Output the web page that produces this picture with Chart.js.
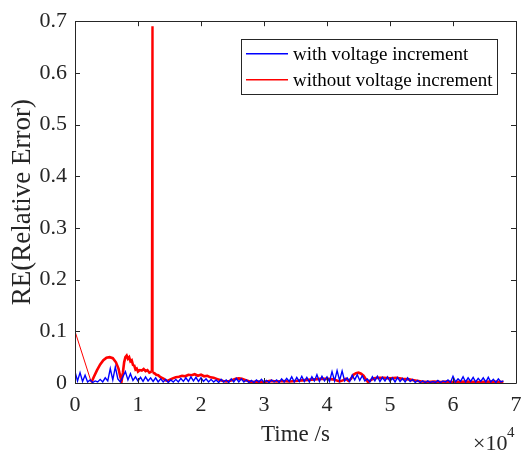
<!DOCTYPE html>
<html>
<head>
<meta charset="utf-8">
<script src="https://cdn.jsdelivr.net/npm/chart.js@4.4.1/dist/chart.umd.min.js"></script>
<style>
  html, body { margin: 0; padding: 0; background: #ffffff; }
  #wrap { width: 532px; height: 453px; position: relative; }
</style>
</head>
<body>
<div id="wrap"><canvas id="c" width="532" height="453"></canvas></div>
<script>
// ---- data (time in units of 10^4 s) ----
const seriesNames = ['with voltage increment', 'without voltage increment'];
const seriesColors = ['#0000ff', '#ff0000'];
const xTickLabels = ['0', '1', '2', '3', '4', '5', '6', '7'];
const yTickLabels = ['0', '0.1', '0.2', '0.3', '0.4', '0.5', '0.6', '0.7'];

const blueTime = [
  0.00,0.04,0.08,0.12,0.16,0.20,0.24,0.28,0.32,0.36,
  0.40,0.44,0.48,0.52,0.56,0.60,0.64,0.68,0.72,0.76,
  0.80,0.84,0.88,0.92,0.96,1.00,1.04,1.08,1.12,1.16,
  1.20,1.24,1.28,1.32,1.36,1.40,1.44,1.48,1.52,1.56,
  1.60,1.64,1.68,1.72,1.76,1.80,1.84,1.88,1.92,1.96,
  2.00,2.04,2.08,2.12,2.16,2.20,2.24,2.28,2.32,2.36,
  2.40,2.44,2.48,2.52,2.56,2.60,2.64,2.68,2.72,2.76,
  2.80,2.84,2.88,2.92,2.96,3.00,3.04,3.08,3.12,3.16,
  3.20,3.24,3.28,3.32,3.36,3.40,3.44,3.48,3.52,3.56,
  3.60,3.64,3.68,3.72,3.76,3.80,3.84,3.88,3.92,3.96,
  4.00,4.04,4.08,4.12,4.16,4.20,4.24,4.28,4.32,4.36,
  4.40,4.44,4.48,4.52,4.56,4.60,4.64,4.68,4.72,4.76,
  4.80,4.84,4.88,4.92,4.96,5.00,5.04,5.08,5.12,5.16,
  5.20,5.24,5.28,5.32,5.36,5.40,5.44,5.48,5.52,5.56,
  5.60,5.64,5.68,5.72,5.76,5.80,5.84,5.88,5.92,5.96,
  6.00,6.04,6.08,6.12,6.16,6.20,6.24,6.28,6.32,6.36,
  6.40,6.44,6.48,6.52,6.56,6.60,6.64,6.68,6.72,6.76,
  6.80
];
const blueRE = [
  0.022,0.004,0.020,0.003,0.015,0.002,0.006,0.001,0.004,0.002,
  0.007,0.002,0.010,0.004,0.028,0.006,0.031,0.008,0.002,0.012,
  0.022,0.006,0.018,0.005,0.012,0.004,0.011,0.003,0.012,0.004,
  0.010,0.003,0.010,0.002,0.008,0.002,0.007,0.001,0.006,0.002,
  0.007,0.002,0.009,0.003,0.010,0.003,0.012,0.004,0.011,0.003,
  0.010,0.003,0.008,0.002,0.007,0.002,0.006,0.001,0.007,0.002,
  0.006,0.001,0.008,0.002,0.009,0.002,0.008,0.002,0.006,0.001,
  0.005,0.001,0.006,0.002,0.007,0.001,0.005,0.001,0.006,0.002,
  0.006,0.001,0.008,0.002,0.009,0.003,0.012,0.002,0.011,0.003,
  0.013,0.003,0.011,0.002,0.012,0.004,0.016,0.003,0.013,0.004,
  0.012,0.003,0.022,0.004,0.024,0.005,0.023,0.004,0.010,0.003,
  0.015,0.006,0.016,0.005,0.014,0.004,0.008,0.002,0.012,0.004,
  0.013,0.003,0.011,0.004,0.012,0.003,0.010,0.002,0.011,0.003,
  0.009,0.002,0.010,0.003,0.007,0.001,0.005,0.001,0.004,0.001,
  0.004,0.001,0.003,0.001,0.005,0.001,0.004,0.002,0.006,0.001,
  0.013,0.002,0.008,0.003,0.012,0.002,0.010,0.003,0.011,0.002,
  0.009,0.003,0.010,0.002,0.011,0.002,0.007,0.001,0.008,0.002,
  0.004
];

const redTime = [
  0.00,0.26,0.30,0.35,0.40,0.45,0.50,0.55,0.60,0.65,0.69,0.72,0.74,0.76,0.78,
  0.80,0.82,0.84,0.86,0.88,0.90,0.92,0.94,0.96,0.98,1.00,1.03,1.06,1.09,1.12,
  1.15,1.18,1.215,1.225,1.235,1.26,1.29,1.32,1.35,1.38,1.41,1.44,1.47,1.50,1.55,
  1.60,1.65,1.70,1.75,1.80,1.85,1.90,1.95,2.00,2.05,2.10,2.15,2.20,2.25,2.30,
  2.35,2.40,2.45,2.50,2.55,2.60,2.65,2.70,2.75,2.80,2.90,3.00,3.10,3.20,3.30,
  3.40,3.50,3.60,3.70,3.80,3.90,4.00,4.10,4.20,4.25,4.30,4.34,4.38,4.42,4.46,
  4.50,4.54,4.58,4.62,4.65,4.70,4.75,4.80,4.90,5.00,5.10,5.20,5.30,5.40,5.50,
  5.60,5.70,5.80,5.90,6.00,6.20,6.40,6.60,6.80
];
const redRE = [
  0.100,0.001,0.012,0.025,0.036,0.044,0.049,0.050,0.048,0.040,0.028,0.012,0.004,0.020,0.040,
  0.050,0.053,0.047,0.050,0.042,0.044,0.035,0.034,0.026,0.028,0.022,0.025,0.024,0.027,0.023,
  0.025,0.020,0.022,0.690,0.020,0.019,0.016,0.015,0.012,0.010,0.008,0.005,0.004,0.006,0.009,
  0.011,0.012,0.014,0.013,0.016,0.015,0.017,0.014,0.016,0.013,0.014,0.011,0.010,0.008,0.006,
  0.004,0.003,0.004,0.006,0.008,0.009,0.008,0.006,0.004,0.002,0.003,0.002,0.004,0.003,0.004,
  0.003,0.004,0.005,0.006,0.007,0.008,0.008,0.007,0.003,0.005,0.008,0.004,0.008,0.016,0.019,
  0.020,0.018,0.014,0.007,0.002,0.006,0.009,0.010,0.010,0.009,0.010,0.008,0.007,0.005,0.003,
  0.002,0.003,0.002,0.003,0.002,0.003,0.002,0.003,0.002
];

// ---- styling ----
const FONT = '"Liberation Serif", "Times New Roman", serif';
const AX = '#262626';

const boxTicks = {
  id: 'boxTicks',
  afterDatasetsDraw(chart) {
    const {ctx, chartArea: a, scales} = chart;
    const L = 5;
    ctx.save();
    ctx.strokeStyle = AX;
    ctx.lineWidth = 1;
    ctx.beginPath();
    ctx.rect(Math.round(a.left) + 0.5, Math.round(a.top) + 0.5,
             Math.round(a.right - a.left), Math.round(a.bottom - a.top));
    scales.x.ticks.forEach(t => {
      const px = Math.round(scales.x.getPixelForValue(t.value)) + 0.5;
      ctx.moveTo(px, a.bottom); ctx.lineTo(px, a.bottom - L);
      ctx.moveTo(px, a.top); ctx.lineTo(px, a.top + L);
    });
    scales.y.ticks.forEach(t => {
      const py = Math.round(scales.y.getPixelForValue(t.value)) + 0.5;
      ctx.moveTo(a.left, py); ctx.lineTo(a.left + L, py);
      ctx.moveTo(a.right, py); ctx.lineTo(a.right - L, py);
    });
    ctx.stroke();

    // legend box
    const lx = 241.5, ly = 39.5, lw = 256, lh = 55;
    ctx.fillStyle = '#ffffff';
    ctx.fillRect(lx, ly, lw, lh);
    ctx.strokeStyle = AX;
    ctx.strokeRect(lx, ly, lw, lh);
    const rows = [53, 79];
    seriesNames.forEach((name, i) => {
      ctx.fillStyle = seriesColors[i];
      ctx.fillRect(246, rows[i], 42, 1.5);
    });
    ctx.fillStyle = '#000000';
    ctx.font = '19px ' + FONT;
    ctx.textBaseline = 'middle';
    ctx.textAlign = 'left';
    seriesNames.forEach((name, i) => {
      ctx.fillText(name, 293, rows[i] + 2);
    });

    // exponent label
    ctx.fillStyle = AX;
    ctx.textBaseline = 'alphabetic';
    ctx.font = '22px ' + FONT;
    ctx.fillText('\u00d710', 473, 450);
    ctx.font = '15px ' + FONT;
    ctx.fillText('4', 507, 437);
    ctx.restore();
  }
};

new Chart(document.getElementById('c'), {
  type: 'line',
  data: {
    datasets: [
      {
        label: seriesNames[0],
        data: blueTime.map((t, i) => ({x: t, y: blueRE[i]})),
        borderColor: seriesColors[0],
        borderWidth: 1.4,
        pointRadius: 0,
        tension: 0
      },
      {
        label: seriesNames[1],
        data: redTime.map((t, i) => ({x: t, y: redRE[i]})),
        borderColor: seriesColors[1],
        borderWidth: 2.6,
        pointRadius: 0,
        tension: 0,
        segment: {
          borderWidth: c => {
            if (c.p0DataIndex === 0) return 1;
            if (c.p1.parsed.y > 0.2 || c.p0.parsed.y > 0.2) return 1.8;
            return undefined;
          }
        }
      }
    ]
  },
  options: {
    responsive: false,
    animation: false,
    events: [],
    layout: { padding: { top: 17, right: 16, left: 0, bottom: 0 } },
    plugins: {
      legend: { display: false },
      tooltip: { enabled: false },
      title: { display: false }
    },
    scales: {
      x: {
        type: 'linear',
        min: 0, max: 7,
        afterFit: s => { s.height = 70; },
        grid: { display: false, drawTicks: false },
        border: { display: false },
        ticks: {
          stepSize: 1,
          padding: 9,
          color: AX,
          font: { family: FONT, size: 22 },
          maxRotation: 0,
          callback: v => xTickLabels[Math.round(v)]
        },
        title: {
          display: true,
          text: 'Time /s',
          color: AX,
          font: { family: FONT, size: 23 },
          padding: { top: 0, bottom: 4 }
        }
      },
      y: {
        type: 'linear',
        min: 0, max: 0.7,
        afterFit: s => { s.width = 75; },
        grid: { display: false, drawTicks: false },
        border: { display: false },
        ticks: {
          stepSize: 0.1,
          padding: 8,
          color: AX,
          font: { family: FONT, size: 22 },
          callback: v => yTickLabels[Math.round(v * 10)]
        },
        title: {
          display: true,
          text: 'RE(Relative Error)',
          color: AX,
          font: { family: FONT, size: 27 },
          padding: { top: 7, bottom: 0 }
        }
      }
    }
  },
  plugins: [boxTicks]
});
</script>
</body>
</html>
